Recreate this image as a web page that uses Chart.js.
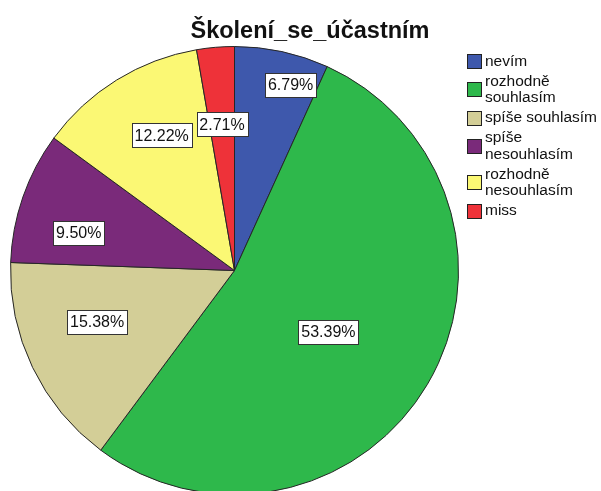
<!DOCTYPE html>
<html>
<head>
<meta charset="utf-8">
<script src="https://cdn.jsdelivr.net/npm/chart.js@4"></script>
<style>
  html, body { margin: 0; padding: 0; background: #fff; overflow: hidden; }
  canvas { display: block; }
</style>
</head>
<body>
<canvas id="pie-chart" width="601" height="495"></canvas>
<script>
const chartTitle = 'Školení_se_účastním';
const categories = ['nevím', 'rozhodně souhlasím', 'spíše souhlasím', 'spíše nesouhlasím', 'rozhodně nesouhlasím', 'miss'];
const percents = [6.79, 53.39, 15.38, 9.50, 12.22, 2.71];
const percentLabels = ['6.79%', '53.39%', '15.38%', '9.50%', '12.22%', '2.71%'];

// look
const sliceColors = ['#3e58ac', '#2eb84b', '#d3ce97', '#7a2a7a', '#fbf874', '#ee3239'];
const labelRadius = [0.865, 0.5, 0.655, 0.715, 0.685, 0.655];
const labelShiftDeg = [4.6, 2.5, 5.1, -5.6, 3.4, 0];
const FONT = "'Liberation Sans', Arial, sans-serif";

// boxed percentage labels inside the slices
const sliceLabels = {
  id: 'sliceLabels',
  afterDatasetsDraw(chart) {
    const ctx = chart.ctx;
    const arcs = chart.getDatasetMeta(0).data;
    ctx.save();
    ctx.font = '16px ' + FONT;
    ctx.textAlign = 'center';
    ctx.textBaseline = 'middle';
    arcs.forEach((arc, i) => {
      const p = arc.getProps(['x', 'y', 'startAngle', 'endAngle', 'outerRadius'], true);
      const a = (p.startAngle + p.endAngle) / 2 + labelShiftDeg[i] * Math.PI / 180;
      const r = p.outerRadius * labelRadius[i];
      const cx = p.x + Math.cos(a) * r;
      const cy = p.y + Math.sin(a) * r;
      const w = Math.round(ctx.measureText(percentLabels[i]).width + 6);
      const h = 24;
      const bx = Math.round(cx - w / 2) + 0.5;
      const by = Math.round(cy - h / 2) + 0.5;
      ctx.fillStyle = '#fff';
      ctx.fillRect(bx, by, w, h);
      ctx.strokeStyle = '#333';
      ctx.lineWidth = 1;
      ctx.strokeRect(bx, by, w, h);
      ctx.fillStyle = '#111';
      ctx.fillText(percentLabels[i], cx, cy + 1);
    });
    ctx.restore();
  },
};

// title + legend on the right, labels wrapped like SPSS does
const titleAndLegend = {
  id: 'titleAndLegend',
  afterDraw(chart) {
    const ctx = chart.ctx;
    ctx.save();
    ctx.fillStyle = '#111';
    ctx.font = 'bold 23.5px ' + FONT;
    ctx.textAlign = 'center';
    ctx.textBaseline = 'alphabetic';
    ctx.fillText(chartTitle, 310, 38);

    ctx.font = '15.5px ' + FONT;
    ctx.textAlign = 'left';
    ctx.textBaseline = 'middle';
    const maxW = 116, lineH = 16.5, gap = 3.5;
    let y = 61.7;
    categories.forEach((name, i) => {
      const lines = [];
      let cur = '';
      for (const word of name.split(' ')) {
        const test = cur ? cur + ' ' + word : word;
        if (cur && ctx.measureText(test).width > maxW) { lines.push(cur); cur = word; }
        else cur = test;
      }
      lines.push(cur);
      const mid = y + (lines.length - 1) * lineH / 2;
      ctx.fillStyle = sliceColors[i];
      ctx.fillRect(467.5, Math.round(mid - 7.5) + 0.5, 14, 14);
      ctx.strokeStyle = '#222';
      ctx.lineWidth = 1;
      ctx.strokeRect(467.5, Math.round(mid - 7.5) + 0.5, 14, 14);
      ctx.fillStyle = '#111';
      lines.forEach((ln, k) => ctx.fillText(ln, 485, y + k * lineH));
      y += lines.length * lineH + gap;
    });
    ctx.restore();
  },
};

new Chart(document.getElementById('pie-chart'), {
  type: 'pie',
  data: {
    labels: categories,
    datasets: [{
      data: percents,
      backgroundColor: sliceColors,
      borderColor: '#262626',
      borderWidth: 1,
    }],
  },
  options: {
    responsive: false,
    animation: false,
    events: [],
    layout: { padding: { left: 10, top: 46, right: 142, bottom: 0 } },
    plugins: { legend: { display: false }, tooltip: { enabled: false }, title: { display: false } },
  },
  plugins: [sliceLabels, titleAndLegend],
});
</script>
</body>
</html>
